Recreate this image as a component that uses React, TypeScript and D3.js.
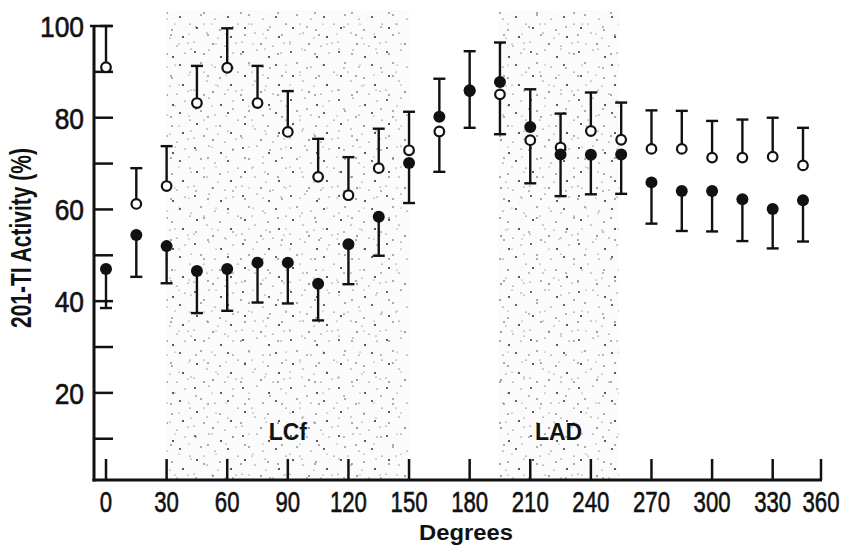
import React from "react";
import * as d3 from "d3";

// ---- data ----
const degrees = [0, 15, 30, 45, 60, 75, 90, 105, 120, 135, 150, 165, 180, 195, 210, 225, 240, 255, 270, 285, 300, 315, 330, 345];
const openMean = [91.0, 61.2, 65.1, 83.2, 90.9, 83.2, 76.9, 67.1, 63.1, 69.0, 72.9, 77.0, 85.8, 85.1, 75.1, 73.5, 77.1, 75.2, 73.2, 73.2, 71.3, 71.3, 71.5, 69.6];
const openSD = [9.0, 7.8, 8.7, 8.1, 8.6, 8.1, 8.9, 8.3, 8.3, 8.6, 8.4, 8.8, 8.0, 8.7, 9.4, 7.4, 8.4, 8.1, 8.4, 8.3, 8.0, 8.3, 8.5, 8.2];
const filledMean = [47.0, 54.4, 52.0, 46.6, 47.0, 48.4, 48.4, 43.8, 52.4, 58.4, 70.1, 80.2, 86.0, 87.8, 78.0, 72.0, 71.9, 72.0, 65.9, 64.0, 64.0, 62.2, 60.1, 62.0];
const filledSD = [8.5, 9.1, 8.1, 9.2, 9.1, 8.7, 8.9, 8.0, 8.7, 8.5, 8.7, 8.3, 8.5, 8.6, 8.2, 9.1, 8.6, 8.6, 9.0, 8.7, 8.8, 9.1, 8.6, 9.0];
const xTicks = [0, 30, 60, 90, 120, 150, 180, 210, 240, 270, 300, 330, 360];
const yTicks = [10, 20, 30, 40, 50, 60, 70, 80, 90, 100];
const yTickLabels = [20, 40, 60, 80, 100];
const regionNames = ["LCf", "LAD"];
const regionStart = [30, 194];
const regionEnd = [150, 254];
const regionTop = 103.5;

// stipple tile dots (texture only)
const stipple = [
  [3, 4, 0.9], [17, 2, 0.6], [29, 9, 1.0], [41, 5, 0.6], [9, 15, 0.7], [23, 19, 0.6],
  [36, 17, 0.9], [46, 24, 0.6], [5, 28, 1.0], [15, 33, 0.6], [28, 30, 0.7], [39, 37, 1.0],
  [2, 42, 0.6], [21, 44, 0.8], [33, 46, 0.6], [12, 24, 0.5], [44, 43, 0.5], [26, 38, 0.5],
];
const stipple2 = [
  [6, 8, 0.6], [19, 13, 0.8], [31, 3, 0.5], [11, 27, 0.7], [27, 24, 0.5], [4, 34, 0.5], [23, 35, 0.8],
];

const W = 845;
const H = 545;

export default function App() {
  const x = d3.scaleLinear().domain([0, 345, 360]).range([106, 803, 821]);
  const y = d3.scaleLinear().domain([1, 100]).range([480, 26]);
  const axisX0 = 94;
  const axisY0 = y(1);
  const ink = "#111";

  const pts = degrees.map((d, i) => {
    const openUp = openMean[i] >= filledMean[i];
    return {
      d,
      o: openMean[i],
      oEnd: openUp ? openMean[i] + openSD[i] : openMean[i] - openSD[i],
      f: filledMean[i],
      fEnd: openUp ? filledMean[i] - filledSD[i] : filledMean[i] + filledSD[i],
    };
  });

  return (
    <svg width={W} height={H} style={{ position: "absolute", left: 0, top: 0, background: "#fff" }}
      fontFamily="'Liberation Sans', Arial, sans-serif">
      <defs>
        <pattern id="stip" width={48} height={48} patternUnits="userSpaceOnUse">
          {stipple.map((s, i) => <circle key={i} cx={s[0]} cy={s[1]} r={s[2]} fill="#222" />)}
        </pattern>
        <pattern id="stip2" width={37} height={41} patternUnits="userSpaceOnUse">
          {stipple2.map((s, i) => <circle key={i} cx={s[0]} cy={s[1]} r={s[2]} fill="#444" />)}
        </pattern>
      </defs>
      <rect width={W} height={H} fill="#fff" />

      {/* shaded regions */}
      {regionNames.map((n, i) => (
        <g key={n}>
          <rect x={x(regionStart[i])} y={y(regionTop)} width={x(regionEnd[i]) - x(regionStart[i])}
            height={axisY0 - y(regionTop)} fill="#fbfbfb" />
          <rect x={x(regionStart[i])} y={y(regionTop)} width={x(regionEnd[i]) - x(regionStart[i])}
            height={axisY0 - y(regionTop)} fill="url(#stip)" />
          <rect x={x(regionStart[i])} y={y(regionTop)} width={x(regionEnd[i]) - x(regionStart[i])}
            height={axisY0 - y(regionTop)} fill="url(#stip2)" />
          <text x={(x(regionStart[i]) + x(regionEnd[i])) / 2} y={440} textAnchor="middle"
            fontSize={23} fontWeight="bold" fill={ink}>{n}</text>
        </g>
      ))}

      {/* axes */}
      <line x1={axisX0} x2={axisX0} y1={y(100)} y2={axisY0 + 1.5} stroke={ink} strokeWidth={3} />
      <line x1={axisX0 - 1.5} x2={x(360) + 1} y1={axisY0} y2={axisY0} stroke={ink} strokeWidth={3} />
      {yTicks.map((t) => (
        <line key={t} x1={t === 100 ? axisX0 - 4 : axisX0} x2={axisX0 + 19} y1={y(t)} y2={y(t)} stroke={ink} strokeWidth={2.5} />
      ))}
      {yTickLabels.map((t) => (
        <text key={t} transform={`translate(84,${y(t) + 11}) scale(0.88,1)`} textAnchor="end" fontSize={30}
          fill={ink} stroke={ink} strokeWidth={0.6}>{t}</text>
      ))}
      {xTicks.map((t) => (
        <g key={t}>
          <line x1={x(t)} x2={x(t)} y1={axisY0} y2={axisY0 - 21} stroke={ink} strokeWidth={2.5} />
          <text transform={`translate(${x(t)},512) scale(0.74,1)`} textAnchor="middle" fontSize={30}
            fill={ink} stroke={ink} strokeWidth={0.6}>{t}</text>
        </g>
      ))}

      {/* axis titles */}
      <text transform={`translate(31,238) rotate(-90) scale(0.7,1)`} textAnchor="middle" fontSize={30} fontWeight="bold" fill={ink}>
        201-TI Activity (%)
      </text>
      <text x={466} y={540} textAnchor="middle" fontSize={22} fontWeight="bold" fill={ink} textLength={94} lengthAdjust="spacingAndGlyphs">
        Degrees
      </text>

      {/* error bars */}
      {pts.map((p) => (
        <g key={"e" + p.d} stroke={ink} strokeWidth={2.4}>
          <line x1={x(p.d)} x2={x(p.d)} y1={y(p.o)} y2={y(p.oEnd)} />
          <line x1={x(p.d) - 6} x2={x(p.d) + 6} y1={y(p.oEnd)} y2={y(p.oEnd)} />
          <line x1={x(p.d)} x2={x(p.d)} y1={y(p.f)} y2={y(p.fEnd)} />
          <line x1={x(p.d) - 6} x2={x(p.d) + 6} y1={y(p.fEnd)} y2={y(p.fEnd)} />
        </g>
      ))}
      {/* points */}
      {pts.map((p) => (
        <g key={"p" + p.d}>
          <circle cx={x(p.d)} cy={y(p.o)} r={4.8} fill="#fff" stroke={ink} strokeWidth={2.2} />
          <circle cx={x(p.d)} cy={y(p.f)} r={6} fill={ink} />
        </g>
      ))}
    </svg>
  );
}
